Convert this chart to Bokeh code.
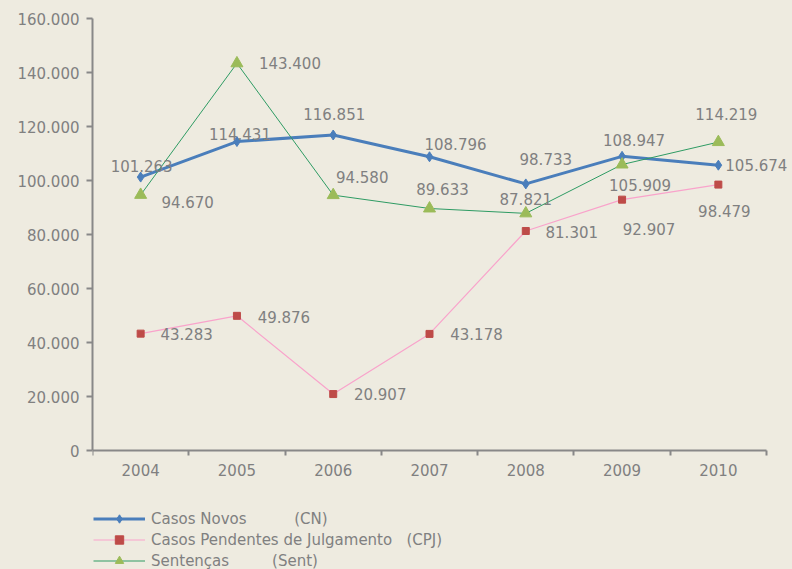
from bokeh.plotting import figure
from bokeh.models import (ColumnDataSource, LabelSet, Legend, LegendItem, FixedTicker,
                          Range1d)
from bokeh.core.properties import value
from bokeh.embed import file_html
from bokeh.resources import INLINE

# ---- data ----
years = [2004, 2005, 2006, 2007, 2008, 2009, 2010]
casos_novos = [101263, 114431, 116851, 108796, 98733, 108947, 105674]
casos_pendentes = [43283, 49876, 20907, 43178, 81301, 92907, 98479]
sentencas = [94670, 143400, 94580, 89633, 87821, 105909, 114219]
y_ticks = [0, 20000, 40000, 60000, 80000, 100000, 120000, 140000, 160000]

# label offsets (screen px: dx right, dy down) -- styling only
cn_off = [(1, -11), (3, -8), (1, -21), (26, -13), (20, -25), (12, -16), (38, 0)]
cpj_off = [(46, 0), (47, 1), (47, 0), (47, 0), (46, 1), (27, 29), (6, 26)]
sent_off = [(47, 7), (53, 0), (29, -18), (13, -19), (0, -14), (18, 20), (8, -28)]

BG = "#EEEBE0"
GRAY = "#808080"
AXIS = "#888888"
FONT = "DejaVu Sans"
FS = "15px"

W, H = 792, 569
LEFT, RIGHT_AXIS, TOP, BOTTOM = 92, 766, 18, 450
step = (RIGHT_AXIS - LEFT) / len(years)          # px per category
x0 = years[0] - 0.5
x1 = x0 + (W - LEFT) / step                      # frame runs to the right edge
per_px = (y_ticks[-1] - y_ticks[0]) / (BOTTOM - TOP)
y0 = y_ticks[0] - (H - BOTTOM) * per_px          # frame runs to the bottom edge


def fmt(v):
    return f"{v:,}".replace(",", ".")


p = figure(width=W, height=H, output_backend="svg", toolbar_location=None,
           x_range=Range1d(x0, x1),
           y_range=Range1d(y0, y_ticks[-1]),
           min_border_left=LEFT, min_border_right=0, min_border_top=TOP,
           min_border_bottom=0)
p.background_fill_color = BG
p.border_fill_color = BG
p.outline_line_color = None
p.xgrid.visible = False
p.ygrid.visible = False

# axes
xa = p.xaxis[0]
xa.ticker = FixedTicker(ticks=years,
                        minor_ticks=[y - 0.5 for y in years] + [years[-1] + 0.5])
xa.bounds = (years[0] - 0.5, years[-1] + 0.5)
xa.fixed_location = 0
xa.major_tick_out = 0
xa.major_tick_in = 0
xa.minor_tick_out = 5
xa.minor_tick_in = 0
xa.minor_tick_line_color = AXIS
xa.minor_tick_line_width = 2
xa.major_label_standoff = 8

ya = p.yaxis[0]
ya.ticker = FixedTicker(ticks=y_ticks, minor_ticks=[])
ya.bounds = (y_ticks[0], y_ticks[-1])
ya.major_label_overrides = {t: fmt(t) for t in y_ticks}
ya.major_tick_out = 6
ya.major_tick_in = 0
ya.minor_tick_out = 0
ya.minor_tick_in = 0
ya.major_label_standoff = 7

for ax in (xa, ya):
    ax.axis_line_color = AXIS
    ax.axis_line_width = 2
    ax.major_tick_line_color = AXIS
    ax.major_tick_line_width = 2
    ax.major_label_text_color = GRAY
    ax.major_label_text_font = FONT
    ax.major_label_text_font_size = FS

series = [
    ("Casos Novos          (CN)", casos_novos, cn_off,
     dict(color="#4A7EBB", width=3), dict(marker="diamond", size=10, color="#4A7EBB")),
    ("Casos Pendentes de Julgamento   (CPJ)", casos_pendentes, cpj_off,
     dict(color="#F9A3CB", width=1.2), dict(marker="square", size=7, color="#BE4B48")),
    ("Sentenças         (Sent)", sentencas, sent_off,
     dict(color="#2E9B63", width=1), dict(marker="triangle", size=12, color="#9BBB59")),
]

items = []
for name, vals, offs, lstyle, mstyle in series:
    src = ColumnDataSource(dict(
        x=years, y=vals, txt=[fmt(v) for v in vals],
        dx=[o[0] for o in offs], dy=[-o[1] for o in offs]))
    lr = p.line("x", "y", source=src, line_color=lstyle["color"],
                line_width=lstyle["width"])
    sr = p.scatter("x", "y", source=src, marker=mstyle["marker"], size=mstyle["size"],
                   fill_color=mstyle["color"], line_color=mstyle["color"])
    labels = LabelSet(x="x", y="y", text="txt", source=src, x_offset="dx",
                      y_offset="dy", text_align="center", text_baseline="middle",
                      text_color=GRAY, text_font=value(FONT), text_font_size=FS)
    p.add_layout(labels)
    items.append(LegendItem(label=name, renderers=[lr, sr]))

legend = Legend(items=items, location=(1, -2), orientation="vertical",
                glyph_width=52, glyph_height=21, label_height=21, spacing=0,
                padding=0, margin=0, label_standoff=6,
                label_text_color=GRAY, label_text_font=FONT,
                label_text_font_size=FS,
                background_fill_alpha=0, border_line_color=None)
p.add_layout(legend, "center")

html = file_html(p, INLINE)
html = html.replace("<body>", '<body style="background:%s">' % BG)
open("out.html", "w").write(html)
